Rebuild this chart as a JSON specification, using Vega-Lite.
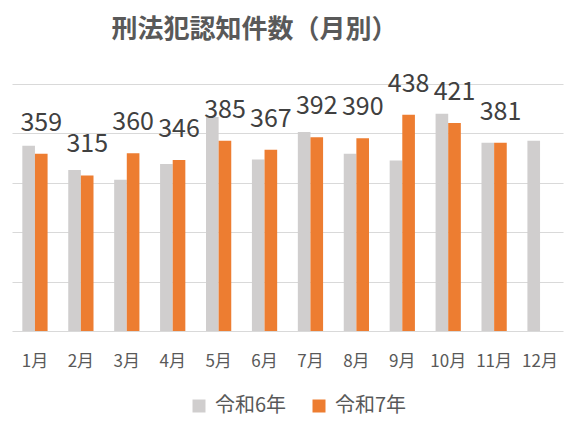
{
  "$schema": "https://vega.github.io/schema/vega-lite/v6.json",
  "width": 551,
  "height": 247,
  "autosize": "none",
  "padding": {"left": 12, "top": 84, "right": 9, "bottom": 101},
  "background": "white",
  "title": {
    "text": "刑法犯認知件数（月別）",
    "font": "Noto Sans CJK JP",
    "fontSize": 26,
    "fontWeight": "bold",
    "color": "#595959",
    "anchor": "middle",
    "dx": -33,
    "offset": 29
  },
  "config": {
    "view": {"stroke": null},
    "font": "Noto Sans CJK JP"
  },
  "data": {
    "values": [
      {"month": "1月", "series": "令和6年", "value": 375},
      {"month": "2月", "series": "令和6年", "value": 326},
      {"month": "3月", "series": "令和6年", "value": 306},
      {"month": "4月", "series": "令和6年", "value": 338},
      {"month": "5月", "series": "令和6年", "value": 433},
      {"month": "6月", "series": "令和6年", "value": 347},
      {"month": "7月", "series": "令和6年", "value": 403},
      {"month": "8月", "series": "令和6年", "value": 359},
      {"month": "9月", "series": "令和6年", "value": 345},
      {"month": "10月", "series": "令和6年", "value": 440},
      {"month": "11月", "series": "令和6年", "value": 381},
      {"month": "12月", "series": "令和6年", "value": 385},
      {"month": "1月", "series": "令和7年", "value": 359},
      {"month": "2月", "series": "令和7年", "value": 315},
      {"month": "3月", "series": "令和7年", "value": 360},
      {"month": "4月", "series": "令和7年", "value": 346},
      {"month": "5月", "series": "令和7年", "value": 385},
      {"month": "6月", "series": "令和7年", "value": 367},
      {"month": "7月", "series": "令和7年", "value": 392},
      {"month": "8月", "series": "令和7年", "value": 390},
      {"month": "9月", "series": "令和7年", "value": 438},
      {"month": "10月", "series": "令和7年", "value": 421},
      {"month": "11月", "series": "令和7年", "value": 381}
    ]
  },
  "encoding": {
    "x": {
      "field": "month",
      "type": "nominal",
      "sort": ["1月", "2月", "3月", "4月", "5月", "6月", "7月", "8月", "9月", "10月", "11月", "12月"],
      "scale": {"paddingInner": 0.45, "paddingOuter": 0.225},
      "axis": {
        "title": null,
        "labelAngle": 0,
        "labelFontSize": 17,
        "labelColor": "#595959",
        "labelPadding": 22,
        "domain": false,
        "ticks": false
      }
    },
    "xOffset": {"field": "series", "type": "nominal", "sort": ["令和6年", "令和7年"]},
    "y": {
      "field": "value",
      "type": "quantitative",
      "scale": {"domain": [0, 500]},
      "axis": {
        "title": null,
        "values": [0, 100, 200, 300, 400, 500],
        "labels": false,
        "ticks": false,
        "domain": false,
        "gridColor": "#d9d9d9",
        "gridWidth": 1
      }
    }
  },
  "layer": [
    {
      "mark": {"type": "bar"},
      "encoding": {
        "color": {
          "field": "series",
          "type": "nominal",
          "scale": {"domain": ["令和6年", "令和7年"], "range": ["#d0cece", "#ed7d31"]},
          "legend": {
            "orient": "none",
            "legendX": 177,
            "legendY": 312,
            "direction": "horizontal",
            "title": null,
            "symbolType": "square",
            "symbolSize": 169,
            "symbolStrokeWidth": 0,
            "labelFontSize": 20,
            "labelColor": "#595959",
            "labelOffset": 6,
            "columnPadding": 22
          }
        }
      }
    },
    {
      "transform": [{"filter": "datum.series === '令和7年'"}],
      "mark": {"type": "text", "fontSize": 25, "color": "#404040", "baseline": "alphabetic", "dy": -23},
      "encoding": {
        "text": {"field": "value", "type": "quantitative"}
      }
    }
  ]
}
